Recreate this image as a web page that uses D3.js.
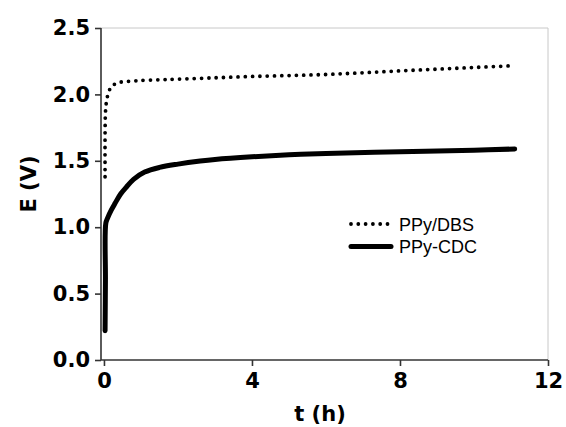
<!DOCTYPE html>
<html>
<head>
<meta charset="utf-8">
<script src="https://cdn.jsdelivr.net/npm/d3@7"></script>
<style>
  body { margin: 0; background: #fff; }
  text { font-family: "Liberation Sans", Arial, sans-serif; }
  .bold { font-family: "DejaVu Sans", sans-serif; font-weight: bold; }
</style>
</head>
<body>
<div id="chart"></div>
<script>
// values
var dbsT = [0.03, 0.03, 0.04, 0.06, 0.09, 0.13, 0.18, 0.25, 0.35, 0.5, 0.75, 1.0, 1.5, 2, 3, 4, 5, 6, 7, 8, 9, 10, 11];
var dbsE = [1.38, 1.7, 1.86, 1.93, 1.98, 2.02, 2.05, 2.07, 2.085, 2.095, 2.1, 2.105, 2.11, 2.115, 2.125, 2.135, 2.142, 2.15, 2.163, 2.177, 2.19, 2.203, 2.215];
var cdcT = [0.03, 0.04, 0.05, 0.1, 0.2, 0.3, 0.45, 0.6, 0.8, 1.1, 1.5, 2, 2.6, 3, 4, 5, 6, 8, 10, 11.1];
var cdcE = [0.22, 0.6, 1.03, 1.07, 1.13, 1.18, 1.25, 1.3, 1.36, 1.415, 1.45, 1.475, 1.498, 1.51, 1.53, 1.545, 1.555, 1.569, 1.58, 1.589];
var xTicks = [0, 4, 8, 12];
var yTicks = [0.0, 0.5, 1.0, 1.5, 2.0, 2.5];
var seriesNames = ["PPy/DBS", "PPy-CDC"];

var W = 566, H = 427;
var svg = d3.select("#chart").append("svg").attr("width", W).attr("height", H);

var x = d3.scaleLinear().domain([-0.08, 12]).range([101, 548]);
var y = d3.scaleLinear().domain([0, 2.5]).range([360, 28]);

// light frame top / right
svg.append("path")
    .attr("d", "M" + x(-0.08) + "," + y(2.5) + "H" + x(12) + "V" + y(0))
    .attr("fill", "none").attr("stroke", "#c8c8c8").attr("stroke-width", 1);

// x axis
var gx = svg.append("g").attr("transform", "translate(0," + y(0) + ")");
gx.call(d3.axisBottom(x).tickValues(d3.range(0, 12.1, 2)).tickSize(5).tickFormat(""));
gx.call(d3.axisBottom(x).tickValues(xTicks).tickSize(6).tickPadding(7).tickFormat(d3.format("d")));
gx.selectAll(".domain").attr("d", "M" + x(-0.08) + ",0H" + x(12));
gx.selectAll("path, line").attr("stroke", "#333").attr("stroke-width", 1.6);
gx.selectAll("text").attr("class", "bold").attr("font-size", 21).attr("fill", "#000");

// y axis
var gy = svg.append("g").attr("transform", "translate(" + x(-0.08) + ",0)");
gy.call(d3.axisLeft(y).tickValues(d3.range(0.25, 2.5, 0.5)).tickSize(5).tickFormat(""));
gy.call(d3.axisLeft(y).tickValues(yTicks).tickSize(6).tickPadding(5).tickFormat(d3.format(".1f")));
gy.selectAll(".domain").attr("d", "M0," + y(0) + "V" + y(2.5));
gy.selectAll("path, line").attr("stroke", "#333").attr("stroke-width", 1.6);
gy.selectAll("text").attr("class", "bold").attr("font-size", 21).attr("fill", "#000");

// axis titles
svg.append("text").attr("class", "bold").attr("x", 320).attr("y", 421).attr("text-anchor", "middle")
    .attr("font-size", 21).text("t (h)");
svg.append("text").attr("class", "bold").attr("transform", "translate(36,184) rotate(-90)").attr("text-anchor", "middle")
    .attr("font-size", 21).text("E (V)");

var dbs = dbsT.map((t, i) => [t, dbsE[i]]);
var cdc = cdcT.map((t, i) => [t, cdcE[i]]);
var line = d3.line().x(d => x(d[0])).y(d => y(d[1])).curve(d3.curveCatmullRom);

svg.append("path").datum(dbs).attr("d", line)
    .attr("fill", "none").attr("stroke", "#000").attr("stroke-width", 3.8)
    .attr("stroke-linecap", "round").attr("stroke-dasharray", "0 7.3");

svg.append("path").datum(cdc).attr("d", line)
    .attr("fill", "none").attr("stroke", "#000").attr("stroke-width", 5)
    .attr("stroke-linecap", "round").attr("stroke-linejoin", "round");

// legend
var leg = svg.append("g");
leg.append("line").attr("x1", 351).attr("x2", 389).attr("y1", 224).attr("y2", 224)
    .attr("stroke", "#000").attr("stroke-width", 3.8).attr("stroke-linecap", "round").attr("stroke-dasharray", "0 7.3");
leg.append("line").attr("x1", 351).attr("x2", 391).attr("y1", 246.5).attr("y2", 246.5)
    .attr("stroke", "#000").attr("stroke-width", 5).attr("stroke-linecap", "round");
leg.selectAll("text.lg").data(seriesNames).enter().append("text")
    .attr("class", "lg")
    .attr("x", 399).attr("y", (d, i) => 230.5 + i * 22.5)
    .attr("font-size", 18).attr("fill", "#000").text(d => d);
</script>
</body>
</html>
